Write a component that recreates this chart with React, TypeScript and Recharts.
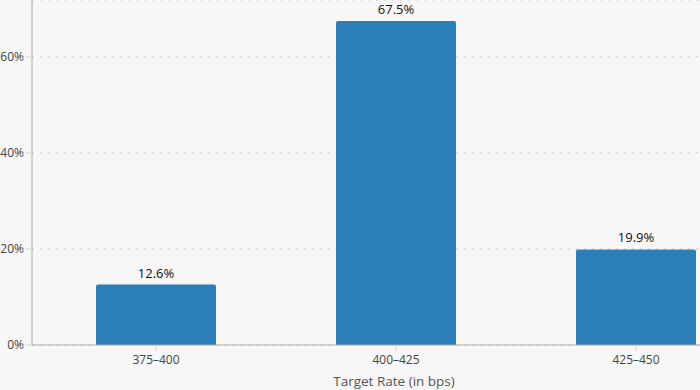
import { BarChart, Bar, XAxis, YAxis, CartesianGrid, LabelList } from "recharts"

const rateBuckets = ["375–400", "400–425", "425–450"]
const probabilities = [12.6, 67.5, 19.9]
const yTicks = [0, 20, 40, 60]

const data = rateBuckets.map((bucket, i) => ({ bucket, probability: probabilities[i] }))

const font = "'Open Sans', 'Noto Sans', sans-serif"

export default function App() {
  return (
    <div
      style={{
        position: "absolute",
        left: 0,
        top: 0,
        width: 700,
        height: 390,
        overflow: "hidden",
        background: "#f7f7f7",
        fontFamily: font,
      }}
    >
      <BarChart
        width={756}
        height={390}
        data={data}
        margin={{ top: 0, right: 0, bottom: 0, left: 0 }}
        barCategoryGap="25%"
      >
        <CartesianGrid
          vertical={false}
          stroke="#dedede"
          strokeWidth={2}
          strokeDasharray="2 6"
        />
        <XAxis
          dataKey="bucket"
          height={45}
          padding={{ left: 4, right: 0 }}
          stroke="#aaa"
          tickLine={{ stroke: "#d4d4d4" }}
          tickSize={6}
          tickMargin={4}
          tick={{ fill: "#444", fontSize: 12, fontFamily: font }}
          label={{
            value: "Target Rate (in bps)",
            position: "insideBottom",
            offset: 4,
            fill: "#555",
            fontSize: 13.5,
            fontFamily: font,
          }}
        />
        <YAxis
          width={32}
          domain={[0, 71.875]}
          ticks={yTicks}
          allowDataOverflow
          stroke="#aaa"
          tickLine={{ stroke: "#d4d4d4" }}
          tickSize={6}
          tickMargin={2}
          tickFormatter={(v) => `${v}%`}
          tick={{ fill: "#444", fontSize: 12, fontFamily: font }}
        />
        <Bar dataKey="probability" fill="#2a7fb8" radius={[2, 2, 0, 0]} isAnimationActive={false}>
          <LabelList
            dataKey="probability"
            position="top"
            offset={7}
            formatter={(v: number) => `${v}%`}
            style={{ fill: "#111", fontSize: 13, fontFamily: font }}
          />
        </Bar>
      </BarChart>
    </div>
  )
}
